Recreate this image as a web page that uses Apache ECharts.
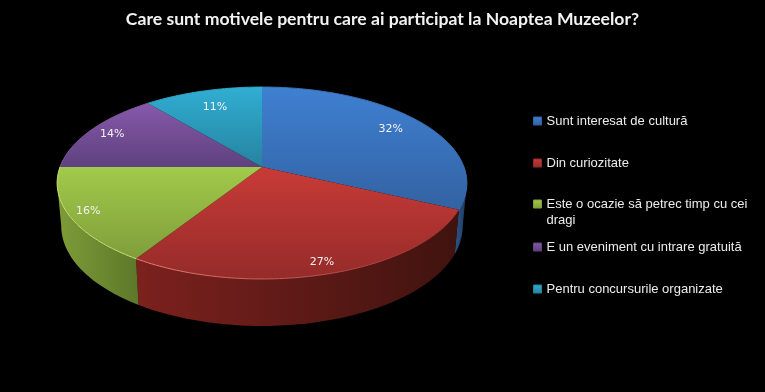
<!DOCTYPE html>
<html>
<head>
<meta charset="utf-8">
<style>html,body{margin:0;padding:0;background:#000}#chart{width:765px;height:392px}</style>
<script src="https://cdn.jsdelivr.net/npm/echarts@6/dist/echarts.min.js"></script>
</head>
<body>
<div id="chart"></div>
<script>
const titleText = 'Care sunt motivele pentru care ai participat la Noaptea Muzeelor?';
const categories = [
    'Sunt interesat de cultură',
    'Din curiozitate',
    'Este o ocazie să petrec timp cu cei dragi',
    'E un eveniment cu intrare gratuită',
    'Pentru concursurile organizate'
];
const values = [32, 27, 16, 14, 11];

// colours per slice
const topLight = ['#3f80d2', '#c83b37', '#a2ca4a', '#8659aa', '#30aed2'];
const topDark = ['#3262a2', '#952b29', '#7f9e3b', '#5f417e', '#2683a0'];
const rimLeft = ['#3d74ba', '#e8807a', '#c8e476', '#7f55a0', '#30a4c6'];
const rimRight = ['#3a6cae', '#9c2e2c', '#c8e476', '#7f55a0', '#30a4c6'];
const wallLeft = ['#2f5384', '#7c211e', '#7f9c39', '#5f417e', '#2683a0'];
const wallRight = ['#1f3a60', '#40130f', '#5d7829', '#5f417e', '#2683a0'];
const labelRadius = [0.81, 0.91, 0.91, 0.87, 0.77];
const legendTop = [113, 155, 180, 239, 281];

// perspective of the pie: circle in the plane -> picture
const cx = 262, cy = 167, ax = 202, by = 93.3, k = 0.1667;
const silhouette = 99.6 * Math.PI / 180;
const total = values.reduce((a, b) => a + b, 0);

function project(t, r) {
    const u = Math.sin(t) * r, v = -Math.cos(t) * r;
    const d = 1 - k * v;
    return [cx + ax * u / d, cy + by * v / d];
}
function projectBottom(t) {
    const p = project(t, 1);
    const v = -Math.cos(t);
    return [cx + (p[0] - cx) * 0.98, p[1] + 42 + 5 * v];
}
function arc(fn, a0, a1) {
    const pts = [];
    const n = Math.max(2, Math.ceil((a1 - a0) / 0.02));
    for (let i = 0; i <= n; i++) pts.push(fn(a0 + (a1 - a0) * i / n));
    return pts;
}
function grad(x, y, x2, y2, c0, c1) {
    return new echarts.graphic.LinearGradient(x, y, x2, y2, [
        { offset: 0, color: c0 }, { offset: 1, color: c1 }
    ]);
}

function makeRender(idx) {
    const before = values.slice(0, idx).reduce((a, b) => a + b, 0);
    return function (params, api) {
        const val = api.value(0);
        const a0 = before / total * Math.PI * 2;
        const a1 = a0 + val / total * Math.PI * 2;
        const edge = t => project(t, 1);
        const children = [];

        // side wall, only where it faces the viewer
        const w0 = Math.max(a0, silhouette), w1 = Math.min(a1, Math.PI * 2 - silhouette);
        if (w1 > w0) {
            const pts = arc(edge, w0, w1).concat(arc(projectBottom, w0, w1).reverse());
            children.push({
                type: 'polygon',
                shape: { points: pts },
                style: { fill: grad(0, 0, 1, 0, wallLeft[idx], wallRight[idx]) }
            });
        }

        const face = [[cx, cy]].concat(arc(edge, a0, a1));
        children.push({
            type: 'polygon',
            shape: { points: face },
            style: { fill: grad(0, 0, 0, 1, topLight[idx], topDark[idx]) }
        });
        children.push({
            type: 'polyline',
            shape: { points: arc(edge, a0, a1) },
            style: { fill: null, stroke: grad(0, 0, 1, 0, rimLeft[idx], rimRight[idx]), lineWidth: 1 }
        });

        const mid = project((a0 + a1) / 2, labelRadius[idx]);
        children.push({
            type: 'text',
            style: {
                text: val + '%',
                x: mid[0], y: mid[1],
                align: 'center', verticalAlign: 'middle',
                fill: '#f2f2f2',
                font: '11px "DejaVu Sans"'
            }
        });
        return { type: 'group', children };
    };
}

const chart = echarts.init(document.getElementById('chart'));
chart.setOption({
    backgroundColor: '#000',
    animation: false,
    title: {
        text: titleText,
        left: 'center',
        top: 10,
        padding: 0,
        textStyle: { color: '#f2f2f2', fontFamily: 'Lato', fontWeight: 'bold', fontSize: 17.6 }
    },
    legend: categories.map((name, i) => ({
        data: [name],
        left: 533,
        top: legendTop[i],
        padding: 0,
        orient: 'vertical',
        icon: 'rect',
        itemWidth: 8,
        itemHeight: 8,
        selectedMode: false,
        itemStyle: {
            color: grad(0, 0, 0, 1, topLight[i], topDark[i]),
            borderColor: topDark[i],
            borderWidth: 1
        },
        // blank first line keeps the symbol level with the first line of text
        formatter: n => n.includes(' dragi') ? '\n' + n.replace(' dragi', '\ndragi') : n,
        textStyle: {
            color: '#ececec',
            fontFamily: 'Liberation Sans',
            fontSize: 13,
            lineHeight: 16
        }
    })),
    series: categories.map((name, i) => ({
        type: 'custom',
        name,
        coordinateSystem: 'none',
        silent: true,
        itemStyle: { color: topLight[i] },
        data: [[values[i]]],
        renderItem: makeRender(i)
    }))
});
</script>
</body>
</html>
